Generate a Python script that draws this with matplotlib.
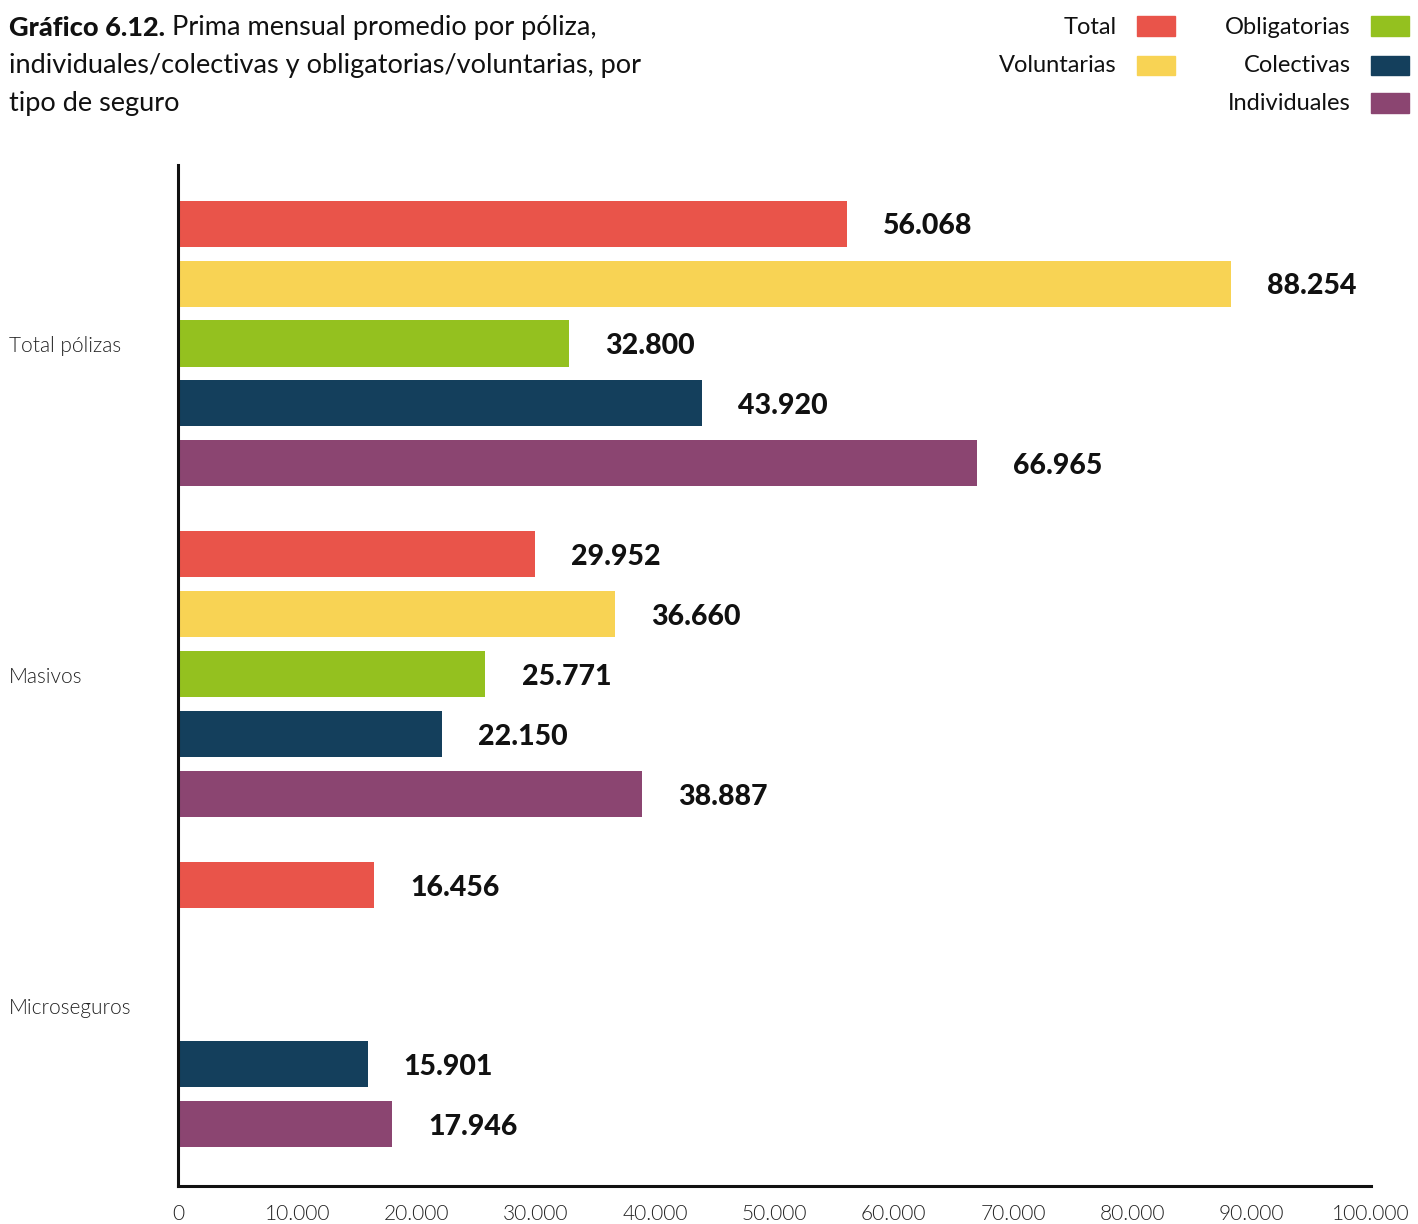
import numpy as np
import matplotlib
matplotlib.use("Agg")
import matplotlib.pyplot as plt
from matplotlib import transforms
from matplotlib.patches import Rectangle

# Data
categories = ["Total pólizas", "Masivos", "Microseguros"]
series_names = ["Total", "Voluntarias", "Obligatorias", "Colectivas", "Individuales"]
total = [56068, 29952, 16456]
voluntarias = [88254, 36660, np.nan]
obligatorias = [32800, 25771, np.nan]
colectivas = [43920, 22150, 15901]
individuales = [66965, 38887, 17946]
series_values = [total, voluntarias, obligatorias, colectivas, individuales]
colors = ["#E9544A", "#F8D354", "#94C11F", "#143F5C", "#8B4571"]
xticks = list(range(0, 100001, 10000))
xtick_labels = ["0"] + [f"{v // 1000}.000" for v in xticks[1:]]

def fmt(v):
    return f"{int(v):,}".replace(",", ".")

plt.rcParams["font.family"] = ["Lato", "DejaVu Sans"]

W, H = 1418, 1224
fig = plt.figure(figsize=(W / 100, H / 100), dpi=100)
ax = fig.add_axes([178 / W, 1 - 1186 / H, (1371 - 178) / W, (1186 - 165) / H])

group_step = 5.52
offsets = np.arange(-2, 3)
bar_h = 0.77

for i, (vals, col) in enumerate(zip(series_values, colors)):
    for g, v in enumerate(vals):
        if np.isnan(v):
            continue
        y = g * group_step + offsets[i]
        ax.barh(y, v, height=bar_h, color=col, edgecolor="none")
        ax.annotate(fmt(v), xy=(v, y), xytext=(26, -2), textcoords="offset points",
                    ha="left", va="center", fontsize=20.5, fontweight=900,
                    color="#111111")

ax.set_xlim(0, 100000)
ax.set_ylim(2 * group_step + 2.98 + 0.05, -2.98)
ax.set_xticks(xticks)
ax.set_xticklabels(xtick_labels, fontsize=15, fontweight=300, color="#222222")
ax.tick_params(axis="x", length=0, pad=13)
ax.set_yticks([])
for s in ["top", "right"]:
    ax.spines[s].set_visible(False)
for s in ["left", "bottom"]:
    ax.spines[s].set_linewidth(2.2)
    ax.spines[s].set_color("#111111")

# Category labels at the left edge of the figure
blend = transforms.blended_transform_factory(fig.transFigure, ax.transData)
for g, name in enumerate(categories):
    ax.text(9 / W, g * group_step + 0.05, name, transform=blend, ha="left", va="center",
            fontsize=15, fontweight=300, color="#222222")

# Title
title_lines = [
    ("Gráfico 6.12.", " Prima mensual promedio por póliza,"),
    ("", "individuales/colectivas y obligatorias/voluntarias, por"),
    ("", "tipo de seguro"),
]
renderer = fig.canvas.get_renderer()
for k, (bold, rest) in enumerate(title_lines):
    y = 1 - (28 + 38 * k) / H
    x = 9 / W
    if bold:
        t = fig.text(x, y, bold, fontsize=19.5, fontweight=900, ha="left",
                     va="center", color="#111111")
        bb = t.get_window_extent(renderer=renderer)
        x = bb.x1 / W
    fig.text(x, y, rest, fontsize=19.5, ha="left", va="center", color="#111111")

# Legend
legend_items = [
    ("Total", 1117, 1137, 26, colors[0]),
    ("Voluntarias", 1117, 1137, 65, colors[1]),
    ("Obligatorias", 1351, 1371, 26, colors[2]),
    ("Colectivas", 1351, 1371, 65, colors[3]),
    ("Individuales", 1351, 1371, 103, colors[4]),
]
for label, tx, px, py, col in legend_items:
    fig.text(tx / W, 1 - (py + 1) / H, label, fontsize=17, ha="right", va="center",
             color="#111111")
    fig.patches.append(Rectangle((px / W, 1 - (py + 9.5) / H), 38 / W, 19 / H,
                                 transform=fig.transFigure, color=col,
                                 figure=fig))

fig.savefig("out.png", dpi=100, facecolor="white")
